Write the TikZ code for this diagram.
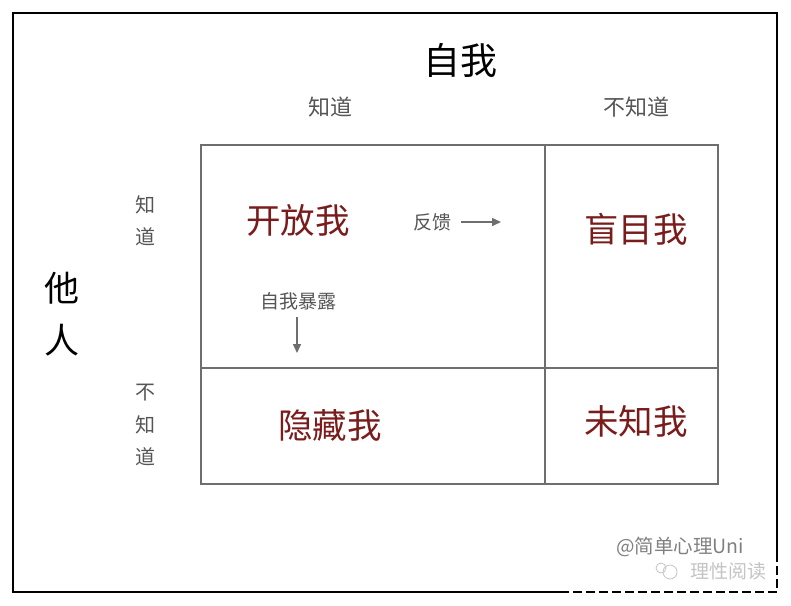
\documentclass[tikz,border=0pt]{standalone}
\usepackage{fontspec}
\setmainfont{Noto Sans CJK SC}
\usetikzlibrary{arrows.meta}
\definecolor{gridgray}{HTML}{6E6E6E}
\definecolor{labgray}{HTML}{555555}
\definecolor{selfred}{HTML}{7A1C1C}
\definecolor{wmgray}{HTML}{C4C4C4}
\tikzset{
  gridline/.style={draw=gridgray, line width=2pt},
  frameline/.style={draw=black, line width=1.5pt},
  biglab/.style={font=\fontsize{37}{52}\selectfont, text=black, inner sep=0pt, align=center},
  axlab/.style={font=\fontsize{22}{32.5}\selectfont, text=labgray, inner sep=0pt, align=center},
  sidelab/.style={font=\fontsize{20}{32.5}\selectfont, text=labgray, inner sep=0pt, align=center},
  quad/.style={font=\fontsize{34.5}{36}\selectfont, text=selfred, inner sep=0pt},
  smalllab/.style={font=\fontsize{19}{20}\selectfont, text=labgray, inner sep=0pt},
  arr/.style={draw=gridgray, line width=1.5pt, -{Triangle[length=9pt,width=8pt]}}
}
\begin{document}
\begin{tikzpicture}[x=1pt,y=-1pt]
\useasboundingbox (0,0) rectangle (791,605);
% outer frame
\draw[frameline] (560,592) -- (13,592) -- (13,13) -- (777,13) -- (777,560);
\draw[frameline, dashed, dash pattern=on 9pt off 4pt] (560,592) -- (777,592) -- (777,560);
% grid
\draw[gridline] (201,145) rectangle (718,484);
\draw[gridline] (545,145) -- (545,484);
\draw[gridline] (201,368) -- (718,368);
% titles
\node[biglab] (ziwo) at (460,60) {自我};
\node[biglab, font=\fontsize{35}{52}\selectfont] (taren) at (62,314) {他\\人};
\node[axlab] (topknow) at (330,107) {知道};
\node[axlab] (topnot) at (636,107) {不知道};
\node[sidelab] (leftknow) at (145,221) {知\\道};
\node[sidelab] (leftnot) at (145,425) {不\\知\\道};
% quadrants
\node[quad] (open) at (298,220) {开放我};
\node[quad] (blind) at (636,229) {盲目我};
\node[quad] (hidden) at (330,425) {隐藏我};
\node[quad] (unknown) at (636,421) {未知我};
% arrows
\node[smalllab] (feedback) at (432,222) {反馈};
\coordinate (fbend) at (501,222);
\draw[arr] ([xshift=10pt]feedback.east) -- (fbend);
\node[smalllab] (disclose) at (298,301) {自我暴露};
\coordinate (dsend) at (297,353);
\draw[arr] ([yshift=-7pt]disclose.south -| dsend) -- (dsend);
% credits
\node[smalllab, font=\fontsize{19.5}{20}\selectfont, text=gray] (credit) at (680,547) {@简单心理Uni};
\node[smalllab, text=wmgray] (wm) at (728,571) {理性阅读};
\draw[wmgray, line width=0.8pt] (670,572) circle (7pt);
\draw[wmgray, line width=0.8pt] (661,568) circle (5pt);
\end{tikzpicture}
\end{document}
